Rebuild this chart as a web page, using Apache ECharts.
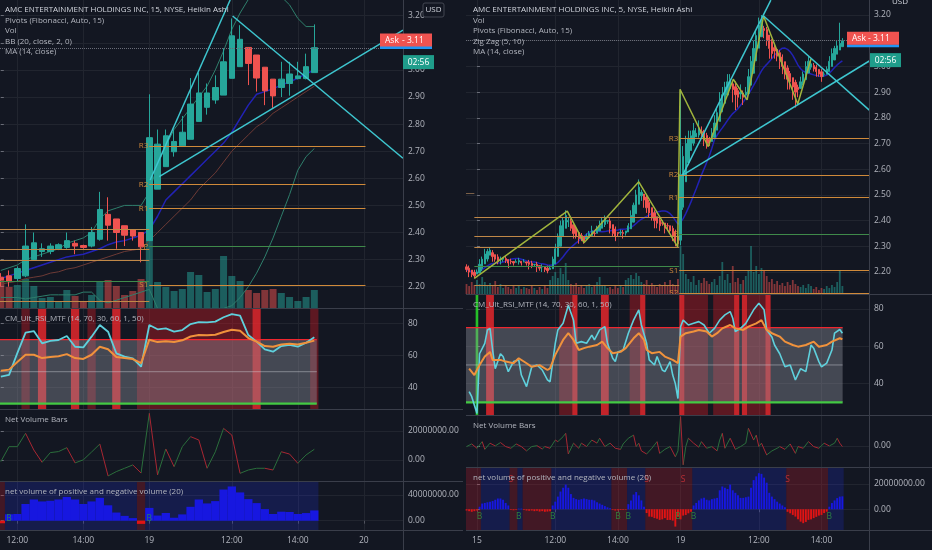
<!DOCTYPE html>
<html><head><meta charset="utf-8">
<script src="https://cdn.jsdelivr.net/npm/echarts@6/dist/echarts.min.js"></script>
<style>html,body{margin:0;padding:0;background:#131722;overflow:hidden}#c{width:932px;height:550px}</style>
</head><body><div id="c"></div>
<script>
// ================= LEFT PANEL : 15 min, Heikin Ashi (bar index 0 = 11:30 of day before the 19th) =================
const L_O = [2.235,2.24,2.23,2.24,2.30,2.33,2.33,2.34,2.345,2.36,2.352,2.35,2.375,2.467,2.45,2.425,2.41,2.40,2.37,2.56,2.643,2.698,2.72,2.744,2.81,2.862,2.889,2.907,2.969,3.012,3.083,3.055,3.01,2.966,2.935,2.95,2.968,2.968,2.99];
const L_C = [2.225,2.22,2.267,2.35,2.362,2.34,2.35,2.355,2.37,2.35,2.345,2.40,2.485,2.427,2.40,2.39,2.387,2.347,2.75,2.726,2.757,2.736,2.77,2.874,2.915,2.915,2.935,3.03,3.126,3.113,3.024,2.97,2.923,2.904,2.966,2.985,2.978,3.012,3.082];
const L_H = [2.25,2.26,2.275,2.43,2.40,2.36,2.36,2.36,2.40,2.37,2.355,2.42,2.55,2.53,2.45,2.425,2.41,2.40,2.91,2.78,2.78,2.78,2.83,2.97,2.99,2.95,2.98,3.08,3.19,3.165,3.083,3.055,3.01,2.966,3.03,3.03,3.03,3.06,3.168];
const L_L = [2.20,2.20,2.22,2.235,2.295,2.31,2.32,2.335,2.34,2.32,2.34,2.345,2.37,2.37,2.34,2.35,2.37,2.29,2.37,2.56,2.643,2.68,2.72,2.744,2.81,2.835,2.875,2.907,2.969,3.012,2.944,2.92,2.87,2.86,2.90,2.905,2.965,2.965,2.99];
const L_VOL = [28,21,23,29,22,10,11,7,18,12,7,13,27,28,22,13,17,29,68,26,21,17,19,36,33,16,19,52,32,27,18,15,18,19,15,11,7,11,18];
const L_BB_UP = [2.26,2.27,2.28,2.30,2.31,2.32,2.33,2.34,2.36,2.37,2.38,2.40,2.45,2.48,2.49,2.50,2.50,2.50,2.55,2.65,2.72,2.78,2.82,2.86,2.90,2.94,3.00,3.07,3.15,3.21,3.26,3.29,3.30,3.29,3.27,3.24,3.19,3.16,3.16];
const L_BB_MID = [2.21,2.215,2.22,2.23,2.235,2.24,2.25,2.255,2.265,2.27,2.28,2.29,2.30,2.31,2.32,2.33,2.335,2.34,2.37,2.40,2.43,2.46,2.49,2.52,2.56,2.59,2.62,2.66,2.70,2.73,2.76,2.79,2.81,2.84,2.86,2.88,2.90,2.92,2.94];
const L_BB_LO = [2.16,2.16,2.16,2.155,2.16,2.165,2.17,2.17,2.17,2.17,2.18,2.18,2.15,2.14,2.15,2.16,2.17,2.18,2.19,2.12,2.10,2.10,2.11,2.09,2.11,2.12,2.12,2.12,2.13,2.16,2.20,2.25,2.31,2.38,2.46,2.54,2.63,2.68,2.71];
const L_MA = [2.23,2.24,2.25,2.26,2.27,2.28,2.29,2.30,2.31,2.315,2.32,2.33,2.34,2.355,2.365,2.37,2.38,2.39,2.41,2.46,2.52,2.55,2.58,2.61,2.64,2.67,2.70,2.73,2.77,2.82,2.87,2.91,2.92,2.93,2.945,2.955,2.97,2.985,3.0];
const L_RSI = [46.9,48,61.6,74.4,75.4,67.7,69.2,69.8,72.3,65.6,65.2,71.9,79.2,75,61.5,59.4,58.4,53.1,79.2,76.5,77.1,75,76,79.8,81,80.8,81.3,84,86,85,72.9,68.8,64,62.5,66,66.7,65.6,68.1,71.5];
const L_RSI_MTF = [50.6,51.3,56,60.6,60.6,58.5,59.2,59.6,61,58.5,58,60.6,65.6,64,59.2,58.5,57.9,55.4,70,68.5,69,68.5,69.6,72,72.9,72.7,73.1,74.8,76.2,75.6,71,68.8,66,65.6,67,67.5,67,68.1,69.4];
const L_NVB = [-1.1,9.2,9.2,18.4,6.9,-1.6,5.1,5.8,8.5,-2.0,0.1,5.5,11,-11,-8,-5.7,-3.4,-9,32.2,-10.3,7.6,-4.6,9.2,16.1,13.8,-5.7,5.7,21.8,17.2,-9.2,-6.9,-5.7,-5.7,-6.9,5.7,4.1,-2.3,3.5,7.4];
const L_NV = [-4,10,10.4,26,33,30,31,33,37,33,26,30,35.6,24,12.7,7.5,4,-5,19.9,8,12,4.6,9.8,21.6,33,26.9,30.5,48.5,53.3,44,33.6,27.4,18,10.4,14,13.5,10.4,11.9,16];
const L_NV_BG = [[0,0,0],[1,16,1],[17,17,0],[18,38,1]];          // [fromBar, toBar, 1=buy(blue) 0=sell(red)]
const L_NV_B = [1,18];                                           // "B" markers
const L_RSI_SPANS = [[3,3,1],[5,5,2],[9,9,2],[11,11,1],[14,14,2],[17,30,1],[31,31,2],[38,38,1]]; // 1 dark, 2 bright
const L_TL = [[[19.2,2.606],[48.75,3.147]],[[28.1,3.199],[48.75,2.674]],[[18.1,2.594],[27.8,3.258]]];
const L_TICK_IDX = [2,10,18,28,36,44];
const L_TICK_LBL = ['12:00','14:00','19','12:00','14:00','20'];

// ================= RIGHT PANEL : 5 min, Heikin Ashi (bar index 0 = 9:30 of the "15" session, first bar = -4) =================
const R_FIRST_IDX = -4;
const R_OPEN0 = 2.22;
const R_C = [2.21,2.20,2.19,2.185,
 2.20,2.23,2.25,2.27,2.28,2.285,
 2.26,2.25,2.24,2.25,2.255,2.245,2.235,
 2.24,2.235,2.24,2.245,2.235,2.24,
 2.235,2.23,2.225,2.23,2.22,2.215,2.22,2.21,2.205,2.215,
 2.25,2.29,2.34,2.38,2.40,2.42,
 2.40,2.37,2.35,2.34,2.33,2.33,2.32,
 2.34,2.35,2.36,2.35,2.37,2.38,2.40,2.41,2.40,
 2.37,2.35,2.34,2.35,2.355,2.35,2.36,2.38,
 2.42,2.46,2.50,2.53,
 2.51,2.48,2.45,2.43,2.41,2.40,2.39,2.38,
 2.39,2.37,2.38,2.36,2.34,2.32,2.31,
 2.58,
 2.65,2.70,2.72,2.73,2.75,2.74,2.76,
 2.74,2.72,2.70,2.70,
 2.74,2.78,2.82,2.86,2.89,2.92,2.94,2.95,
 2.91,2.89,2.88,2.90,2.88,2.90,
 2.96,3.02,3.07,3.12,3.16,3.18,
 3.14,3.10,3.07,3.05,3.06,3.04,3.02,
 3.00,2.97,2.95,2.94,2.92,2.90,2.91,
 2.94,2.97,3.00,3.02,3.01,
 2.99,2.98,2.97,2.96,2.97,2.99,
 3.02,3.05,3.07,3.08,3.09,3.10];
const R_WU = [1,1,0,1, 1,2,1,2,1,1, 1,0,1,1,0,1,0, 1,0,1,1,0,1, 0,1,1,0,1,0,1,0,1,1, 1,2,1,2,1,2, 1,1,0,1,0,1,0, 1,1,2,1,1,2,1,1,0, 1,0,1,0,1,1,0,1, 2,1,2,3, 1,0,1,1,0,1,0,1, 1,0,1,0,1,1,0, 33, 4,3,3,2,3,2,3, 2,1,1,1, 2,3,2,4,3,2,3,2, 1,2,1,3,1,2, 3,2,3,2,3,2, 1,1,0,1,1,0,1, 1,0,1,1,0,1,1, 2,1,2,2,1, 1,1,0,1,1,1, 2,2,1,2,8,1];
const R_WD = [1,2,1,1, 0,0,1,0,1,0, 2,1,1,2,1,1,2, 1,1,0,1,1,0, 1,2,1,1,2,1,2,1,1,0, 0,0,0,0,0,0, 2,1,2,1,2,1,1, 0,0,0,1,0,0,0,1,1, 2,1,2,1,1,2,1,0, 0,0,0,0, 2,3,2,2,1,3,2,2, 1,2,2,1,2,2,1, 2, 1,0,1,0,1,0,1, 2,3,2,1, 0,0,0,0,0,0,0,0, 5,6,4,2,3,1, 0,0,0,0,0,0, 3,2,4,2,3,2,3, 3,2,4,3,5,6,3, 0,0,0,0,1, 1,2,1,2,1,0, 0,0,0,0,0,0];
const R_VOL = [10,8,12,9, 14,10,17,12,9,11, 8,13,7,10,6,9,7, 5,8,6,9,5,7, 6,5,8,6,4,7,5,9,6,14, 18,22,16,26,20,31, 14,10,8,11,7,9,6, 8,10,7,9,12,17,9,8,6, 7,5,8,6,9,7,14,16, 19,15,21,18, 12,10,14,8,11,9,7,10, 8,12,9,14,10,8,15, 48, 40,20,15,12,18,9,14, 11,16,13,10, 12,15,9,18,32,14,20,11, 28,12,16,10,14,18, 24,48,22,28,20,26, 24,18,12,15,10,13,9, 11,8,12,9,14,10,8, 7,9,6,10,8, 5,7,4,6,5,8, 6,9,7,12,23,8];
const R_NV = [-1,-1.5,-2,-1.5,-1,
 2,4.5,5,5.5,6,6.5,7.5,8.5,8.5,7.5,5,3,
 -0.5,-0.8,-0.5, 0.5,0.5,
 -0.5,-1,-1.2,-1,-1.5,-1.2,-1.8,-1.5,-2,-1.8,-1.5,
 3,6,10,14,17,19.5,17,12,9,8,7.5,8,8.5,8,7.5,7.5,7,5.5,4.5,3.5,2.5,1.5,0.8,
 -0.5,-1,-0.8,-0.6,-0.5,-0.4,
 4,7,11.6,13.6,11,7,2,
 -3,-5.8,-6,-7,-7.5,-8.4,-8,-7,-8.5,-8.4,-9,-13.7,-6,-8,-5,-4.5,-3.2,-2,
 3,5,7,8.5,9,7.5,7,8,8.5,9,15,18,17,16,19.5,15,13,11,9,9,9.5,10,17,23,26,28.5,28,25,21,13,10,8,6,4.5,3,1.5,
 -2,-3.2,-4.5,-5.8,-8,-9.8,-11,-10,-8.4,-8,-7,-6,-5,-4.5,-3,-1.9,
 2,4.9,7,8.8,10,10.2];
const R_NV_BG = [[-5,1,0],[2,12,1],[13,15,0],[16,17,1],[18,28,0],[29,51,1],[52,57,0],[58,64,1],[65,82,0],[83,118,1],[119,134,0],[135,140,1]];
const R_NV_B = [1,16,29,54,58,77,83,135];
const R_NV_S = [13,65,79,119];
const R_RSI = [[-3,35.7],[-2,33],[0,24],[1,56],[3,61.6],[4,68.7],[5,69.6],[6,58],[7,48],[9,56],[10,54.5],[12,46.4],[14,51.8],[16,52.7],[17,44.6],[19,38.4],[21,49],[23,50],[25,47.3],[27,42],[28,41],[30,61.6],[31,68.75],[33,72.3],[35,82],[37,74],[38,61.6],[40,62.5],[42,61.6],[44,66],[45,63.4],[47,68.75],[49,70.5],[50,61.6],[52,53.6],[53,51.8],[54,57],[56,58],[58,67],[60,74],[62,79.5],[63,71.4],[65,61.6],[66,52.7],[68,50],[69,54.5],[71,47.3],[72,46.4],[74,51.8],[75,44.6],[76,40],[77,32],[78,70.5],[79,74],[81,71.4],[83,72.3],[85,73.2],[87,71.4],[89,67],[91,69.6],[93,74],[95,76.8],[97,78.6],[98,75],[99,67.9],[101,69.6],[103,72.3],[106,79.5],[108,83],[110,79.5],[111,68.75],[113,65],[114,60.7],[116,56],[118,49],[120,50],[122,42],[124,48],[126,46.4],[128,60.7],[129,59],[131,51.8],[132,49],[134,51],[136,58],[137,67],[139,69],[140,67]];
const R_RSI_MTF = [[-3,48],[-1,44.6],[1,50],[3,54.5],[5,57],[6,52.7],[9,52.7],[11,51.8],[14,50.9],[16,53.6],[19,50.9],[21,49],[24,49.9],[27,47.3],[28,48.2],[30,55.4],[33,63.4],[35,67],[37,63.4],[39,58],[41,59],[43,59.8],[46,60.7],[48,62.5],[50,59],[52,56.3],[55,57],[57,59],[60,64.3],[62,67],[64,63.4],[65,58],[67,56.3],[70,57],[72,54.5],[75,52.7],[77,51],[78,65.2],[80,67],[83,67.9],[85,68.75],[88,67.9],[90,65.2],[92,67],[94,69.6],[97,71.4],[99,69.6],[102,68.75],[104,70.5],[107,72.3],[109,74],[111,68.75],[113,67],[116,65.2],[118,62.5],[121,60.7],[123,59.8],[126,60.7],[129,62.5],[131,59.8],[134,60.7],[136,62.5],[139,64.3],[140,63.8]];
const R_RSI_SPANS = [[0,0,3],[4,6,2],[32,36,1],[37,38,2],[48,50,2],[59,62,1],[63,64,2],[78,79,2],[80,88,1],[91,98,1],[99,100,2],[102,103,2],[104,110,1],[111,112,2]]; // 3 = oversold green
const R_NVB = [[-4,-0.2],[-2,0.65],[0,-0.75],[2,1.4],[3,-1.1],[5,0.9],[7,0],[9,1.1],[11,-0.2],[13,-0.75],[15,0.65],[17,-0.2],[19,-1.6],[21,-0.2],[23,0.1],[25,-1.0],[26,-0.2],[28,-0.75],[30,1.9],[31,1.4],[33,3.0],[34,4.1],[35,-2.6],[37,0.9],[39,-0.75],[40,0.9],[42,-0.2],[44,1.9],[46,0.9],[47,2.5],[49,-0.2],[51,0.9],[53,-0.75],[55,-1.1],[56,0.65],[58,2.5],[60,3.5],[61,-0.2],[62,0.9],[63,-1.6],[65,-2.6],[67,-0.75],[69,1.4],[70,-2.4],[72,-1.1],[74,-0.2],[76,-3.5],[77,-1.6],[78,9.5],[79,-6.1],[80,-0.2],[81,2.5],[83,0.9],[85,-0.4],[86,1.4],[88,-0.75],[90,-0.2],[92,-1.6],[93,1.9],[94,4.1],[95,-0.75],[97,2.5],[99,-1.1],[101,-0.2],[103,0.9],[104,5.7],[106,1.9],[107,3.5],[108,-0.2],[109,0.9],[111,-2.9],[113,-1.6],[115,-0.75],[116,-0.2],[118,-1.1],[120,0.65],[122,-2.4],[123,-0.2],[125,-0.75],[127,1.4],[129,-0.2],[131,-0.75],[133,0.9],[135,0],[137,0.9],[138,2.5],[139,0.9],[140,-0.2]];
const R_ZZ = [[-1,2.175],[34.6,2.437],[41,2.314],[62,2.551],[76.9,2.298],[77.8,2.911],[88.6,2.688],[98.2,2.95],[103.5,2.87],[109.8,3.196],[122.9,2.854],[128,3.03]];
const R_TL = [[[78.8,2.577],[150.3,3.021]],[[109.8,3.196],[150.3,2.83]],[[78.8,2.577],[112.6,3.258]]];
const R_TICK_IDX = [0,30,54,78,108,132];
const R_TICK_LBL = ['15','12:00','14:00','19','12:00','14:00'];

// Fibonacci pivots (shared sessions)
const PIV_D1 = [2.412,2.34,2.296,2.221,2.148];
const PIV_D1_NAMES = ['R3','R2','R1','P','S1'];
const PIV_D2 = [2.719,2.578,2.489,2.348,2.206,2.118];
const PIV_D2_NAMES = ['R3','R2','R1','P','S1','S2'];
const PIV_PREV = [2.506];

const PRICE_TICKS = [2.2,2.3,2.4,2.5,2.6,2.7,2.8,2.9,3.0,3.1,3.2];
const RSI_TICKS = [40,60,80];
const ASK = 3.11;

// ================= styling =================
const FONT = '"Open Sans", "Liberation Sans", sans-serif';
const BG = '#131722', GRID_C = '#21252f', SEP = '#3a3e4a', TXT = '#b2b5be';
const UP = '#26a69a', DN = '#ef5350';
const VUP = 'rgba(38,166,154,0.5)', VDN = 'rgba(239,83,80,0.5)';
const TLC = '#3ec6cf', ZZC = '#a0b43c', PIV_O = '#d08a3a', PIV_O1 = '#c08848', PIV_G = '#3f8a4a';
const MA_C = '#2222b4';

// Heikin Ashi open/high/low for the right panel from read closes and wick sizes
const R_O = []; R_C.forEach((c,k)=>{ R_O.push(k===0 ? R_OPEN0 : +((R_O[k-1]+R_C[k-1])/2).toFixed(4)); });
const R_H = R_C.map((c,k)=>+(Math.max(R_O[k],c)+R_WU[k]/100).toFixed(4));
const R_L = R_C.map((c,k)=>+(Math.min(R_O[k],c)-R_WD[k]/100).toFixed(4));
const R_X = R_C.map((c,k)=>k+R_FIRST_IDX);
const R_MA = R_C.map((c,k)=>{ const s=R_C.slice(Math.max(0,k-13),k+1); return s.reduce((a,b)=>a+b,0)/s.length; });

function slopeSegs(pts){
  const up=[], dn=[]; let lu=-1, ld=-1;
  for(let k=0;k<pts.length-1;k++){
    const a=pts[k], b=pts[k+1], rising=b[1]>=a[1];
    const arr=rising?up:dn, last=rising?lu:ld;
    if(last!==k){ if(arr.length) arr.push([a[0],'-']); arr.push(a); }
    arr.push(b);
    if(rising) lu=k+1; else ld=k+1;
  }
  return {up,dn};
}
function pivLines(levels,names,s,e,lbl,col){
  return levels.map((p,k)=>[{coord:[s,p],lineStyle:{color:names[k]==='P'?PIV_G:(col||PIV_O),width:1,type:'solid',opacity:1},
    label:{show:lbl,position:'start',formatter:names[k],color:PIV_O,fontSize:8,fontFamily:FONT,distance:1}},{coord:[e,p]}]);
}
function spansArea(spans, colors){
  return spans.map(s=>[{xAxis:s[0]-0.5,itemStyle:{color:colors[s[2]]}},{xAxis:s[1]+0.5}]);
}

const grids=[
 {left:0,top:0,width:403,height:308},
 {left:0,top:230,width:403,height:78},
 {left:0,top:308,width:403,height:101},
 {left:0,top:409,width:403,height:72},
 {left:0,top:481,width:403,height:49},
 {left:466,top:0,width:403,height:294},
 {left:466,top:240,width:403,height:54},
 {left:466,top:294,width:403,height:121},
 {left:466,top:415,width:403,height:52},
 {left:466,top:467,width:403,height:63}
].map(g=>Object.assign(g,{containLabel:false,outerBoundsMode:'none'}));

function xAx(g,side,bottom,split){
  const idx = side==='L'?L_TICK_IDX:R_TICK_IDX, lbl = side==='L'?L_TICK_LBL:R_TICK_LBL;
  return {type:'value',gridIndex:g,min:side==='L'?-0.1:-4.2,max:side==='L'?48.75:150.2,
    axisLine:{show:false},
    axisTick:{show:!!bottom,customValues:idx,length:3,lineStyle:{color:'#50535e'}},
    axisLabel:{show:!!bottom,customValues:idx,formatter:v=>{const k=idx.indexOf(v);return k<0?'':lbl[k];},color:TXT,fontSize:8.5,fontFamily:FONT,margin:6},
    splitLine:{show:split,lineStyle:{color:GRID_C,width:1}}};
}
function yAx(g,min,max,ticks,fmt,show){
  return {type:'value',gridIndex:g,position:'right',min,max,
    axisLine:{show:false},
    axisTick:{show:show,customValues:ticks||[],length:3,lineStyle:{color:'#6a6d78'}},
    axisLabel:{show:show,customValues:ticks||[],formatter:fmt,color:TXT,fontSize:8.5,fontFamily:FONT,margin:5},
    splitLine:{show:show,lineStyle:{color:GRID_C,width:1}}};
}
const pf=v=>v.toFixed(2), mf=v=>(v*1000000).toFixed(2), rf=v=>String(v);

const xAxis=[xAx(0,'L',false,true),xAx(1,'L',false,false),xAx(2,'L',false,true),xAx(3,'L',false,true),xAx(4,'L',true,true),
             xAx(5,'R',false,true),xAx(6,'R',false,false),xAx(7,'R',false,true),xAx(8,'R',false,true),xAx(9,'R',true,true)];
const yAxis=[yAx(0,2.1214,3.258,PRICE_TICKS,pf,true), yAx(1,0,78,null,pf,false), yAx(2,26.7,89.8,RSI_TICKS,rf,true),
             yAx(3,-14.48,35.17,[0,20],mf,true), yAx(4,-14.5,61.8,[0,40],mf,true),
             yAx(5,2.1144,3.2584,PRICE_TICKS,pf,true), yAx(6,0,54,null,pf,false), yAx(7,23.2,88,RSI_TICKS,rf,true),
             yAx(8,-6.8,10,[0],mf,true), yAx(9,-16.4,33.4,[0,20],mf,true)];

const series=[];
function ln(xi,data,color,width,z,extra){ series.push(Object.assign({type:'line',xAxisIndex:xi,yAxisIndex:xi,data,symbol:'none',silent:true,z,
  lineStyle:{color,width},itemStyle:{color},connectNulls:false},extra||{})); }
const mlBase={silent:true,symbol:['none','none'],animation:false,lineStyle:{color:PIV_O,width:1,type:'solid'},emphasis:{disabled:true}};

// ---------- LEFT main ----------
series.push({type:'bar',xAxisIndex:1,yAxisIndex:1,barWidth:7,z:1,silent:true,
  data:L_VOL.map((v,i)=>({value:[i,v],itemStyle:{color:L_C[i]>=L_O[i]?VUP:VDN}}))});
ln(0,L_BB_UP.map((v,i)=>[i,v]),'#2f7f6c',1,2);
ln(0,L_BB_LO.map((v,i)=>[i,v]),'#2f7f6c',1,2);
ln(0,L_BB_MID.map((v,i)=>[i,v]),'#6e3b36',1,2);
ln(0,L_MA.map((v,i)=>[i,v]),MA_C,1.5,3);
series.push({type:'candlestick',xAxisIndex:0,yAxisIndex:0,barWidth:6,z:4,silent:true,
  encode:{x:0,y:[1,2,3,4]},
  data:L_O.map((o,i)=>[i,o,L_C[i],L_L[i],L_H[i]]),
  itemStyle:{color:UP,color0:DN,borderColor:UP,borderColor0:DN,borderWidth:1},
  markLine:Object.assign({},mlBase,{
    data:[...pivLines(PIV_D1,PIV_D1_NAMES,-0.1,18,false,PIV_O1),...pivLines(PIV_D2.slice(0,5),PIV_D2_NAMES.slice(0,5),18,44.2,true),
      {yAxis:L_C[L_C.length-1],label:{show:false},lineStyle:{type:'dotted',color:'#6a6d78',width:1}}]})});
L_TL.forEach(t=>ln(0,t,TLC,1.5,5));

// ---------- LEFT RSI ----------
const L_END=38.3;
ln(2,[[-0.1,30],[L_END,30]],'rgba(0,0,0,0)',0,1,{markArea:{silent:true,data:spansArea(L_RSI_SPANS,[null,'rgba(215,25,35,0.38)','rgba(245,40,45,0.78)','rgba(40,220,40,0.8)'])}});
ln(2,[[-0.1,70],[L_END,70]],'rgba(0,0,0,0)',0,2,{markArea:{silent:true,itemStyle:{color:'rgba(150,152,162,0.38)'},data:[[{coord:[-0.1,30]},{coord:[L_END,70]}]]}});
ln(2,[[-0.1,50],[L_END,50]],'rgba(210,212,220,0.45)',1,3);
ln(2,[[-0.1,70],[L_END,70]],'#f0262e',1.3,3);
ln(2,[[-0.1,30],[L_END,30]],'#43c943',2.2,3);
ln(2,L_RSI.map((v,i)=>[i,v]),'#5fd0dc',1.8,4);
ln(2,L_RSI_MTF.map((v,i)=>[i,v]),'#f0923c',2,5);

// ---------- LEFT Net Volume Bars ----------
{const s=slopeSegs(L_NVB.map((v,i)=>[i,v])); ln(3,s.up,'#2b6e3c',1,3); ln(3,s.dn,'#a82632',1,3);}

// ---------- LEFT net volume ----------
ln(4,[[-0.1,0],[L_END,0]],'rgba(0,0,0,0)',0,1,{markArea:{silent:true,data:spansArea(L_NV_BG,['rgba(190,30,45,0.28)','rgba(35,45,230,0.21)'])}});
series.push({type:'bar',xAxisIndex:4,yAxisIndex:4,barWidth:8.3,z:2,silent:true,
  data:L_NV.map((v,i)=>({value:[i,v],itemStyle:{color:v>=0?'#1717e0':'#e01414'}}))});
series.push({type:'scatter',xAxisIndex:4,yAxisIndex:4,z:3,silent:true,symbolSize:1,itemStyle:{color:'rgba(0,0,0,0)'},
  data:L_NV_B.map(i=>[i,4]),label:{show:true,position:'inside',formatter:'B',color:'#2f9a3e',fontSize:8.5,fontFamily:FONT}});

// ---------- RIGHT main ----------
series.push({type:'bar',xAxisIndex:6,yAxisIndex:6,barWidth:1.8,z:1,silent:true,
  data:R_VOL.map((v,k)=>({value:[R_X[k],v],itemStyle:{color:R_C[k]>=R_O[k]?VUP:VDN}}))});
ln(5,R_MA.map((v,k)=>[R_X[k],v]),MA_C,1.5,3);
series.push({type:'candlestick',xAxisIndex:5,yAxisIndex:5,barWidth:1.8,z:4,silent:true,
  encode:{x:0,y:[1,2,3,4]},
  data:R_C.map((c,k)=>[R_X[k],R_O[k],c,R_L[k],R_H[k]]),
  itemStyle:{color:UP,color0:DN,borderColor:UP,borderColor0:DN,borderWidth:1},
  markLine:Object.assign({},mlBase,{
    data:[...pivLines(PIV_PREV,['R2'],-4.2,-1,false,'#7a6048'),...pivLines(PIV_D1,PIV_D1_NAMES,-1,77.5,false,PIV_O1),...pivLines(PIV_D2,PIV_D2_NAMES,77.5,150.2,true),
      {yAxis:R_C[R_C.length-1],label:{show:false},lineStyle:{type:'dotted',color:'#6a6d78',width:1}}]})});
ln(5,R_ZZ,ZZC,1.5,5);
R_TL.forEach(t=>ln(5,t,TLC,1.5,5));

// ---------- RIGHT RSI ----------
const R_END=140.1;
ln(7,[[-4.2,30],[R_END,30]],'rgba(0,0,0,0)',0,1,{markArea:{silent:true,data:spansArea(R_RSI_SPANS,[null,'rgba(215,25,35,0.38)','rgba(245,40,45,0.78)','rgba(40,220,40,0.85)'])}});
ln(7,[[-4.2,70],[R_END,70]],'rgba(0,0,0,0)',0,2,{markArea:{silent:true,itemStyle:{color:'rgba(150,152,162,0.38)'},data:[[{coord:[-4.2,30]},{coord:[R_END,70]}]]}});
ln(7,[[-4.2,50],[R_END,50]],'rgba(210,212,220,0.45)',1,3);
ln(7,[[-4.2,70],[R_END,70]],'#f0262e',1.3,3);
ln(7,[[-4.2,30],[R_END,30]],'#43c943',2.2,3);
ln(7,R_RSI,'#5fd0dc',1.6,4);
ln(7,R_RSI_MTF,'#f0923c',2,5);

// ---------- RIGHT Net Volume Bars ----------
{const s=slopeSegs(R_NVB); ln(8,s.up,'#2b6e3c',1,3); ln(8,s.dn,'#a82632',1,3);}

// ---------- RIGHT net volume ----------
ln(9,[[-4.2,0],[R_END,0]],'rgba(0,0,0,0)',0,1,{markArea:{silent:true,data:spansArea(R_NV_BG,['rgba(190,30,45,0.28)','rgba(35,45,230,0.21)'])}});
series.push({type:'bar',xAxisIndex:9,yAxisIndex:9,barWidth:1.9,z:2,silent:true,
  data:R_NV.map((v,k)=>({value:[R_X[k],v],itemStyle:{color:v>=0?'#1717e0':'#e01414'}}))});
series.push({type:'scatter',xAxisIndex:9,yAxisIndex:9,z:3,silent:true,symbolSize:1,itemStyle:{color:'rgba(0,0,0,0)'},
  data:R_NV_B.map(i=>[i,-5.8]),label:{show:true,position:'inside',formatter:'B',color:'#2f9a3e',fontSize:8.5,fontFamily:FONT}});
series.push({type:'scatter',xAxisIndex:9,yAxisIndex:9,z:3,silent:true,symbolSize:1,itemStyle:{color:'rgba(0,0,0,0)'},
  data:R_NV_S.map(i=>[i,23.2]),label:{show:true,position:'inside',formatter:'S',color:'#d8343a',fontSize:8.5,fontFamily:FONT}});

// ---------- texts & layout ----------
const g=[];
function txt(x,y,t,fill,size,align){ g.push({type:'text',x,y,silent:true,z:100,style:{text:t,fill:fill||TXT,font:(size||8)+'px '+FONT,verticalAlign:'middle',align:align||'left'}}); }
function hl(x1,x2,y){ g.push({type:'line',silent:true,z:90,shape:{x1,y1:y,x2,y2:y},style:{stroke:SEP,lineWidth:1}}); }
function vl(x,y1,y2){ g.push({type:'line',silent:true,z:90,shape:{x1:x,y1,x2:x,y2},style:{stroke:SEP,lineWidth:1}}); }
vl(403.5,0,550); vl(869.5,0,550);
[308.5,409.5,481.5,530.5].forEach(y=>hl(0,463,y));
[294.5,415.5,467.5,530.5].forEach(y=>hl(466,932,y));
const LEG_L=['AMC ENTERTAINMENT HOLDINGS INC, 15, NYSE, Heikin Ashi','Pivots (Fibonacci, Auto, 15)','Vol','BB (20, close, 2, 0)','MA (14, close)'];
const LEG_R=['AMC ENTERTAINMENT HOLDINGS INC, 5, NYSE, Heikin Ashi','Vol','Pivots (Fibonacci, Auto, 15)','Zig Zag (5, 10)','MA (14, close)'];
const LEG_Y=[10,20.5,31,41.5,52];
LEG_L.forEach((t,k)=>txt(5,LEG_Y[k],t,k===0?'#d1d4dc':TXT,8));
LEG_R.forEach((t,k)=>txt(473,LEG_Y[k],t,k===0?'#d1d4dc':TXT,8));
txt(5,319,'CM_Ult_RSI_MTF (14, 70, 30, 60, 1, 50)'); txt(5,419.5,'Net Volume Bars'); txt(5,491.5,'net volume of positive and negative volume (20)');
txt(473,305,'CM_Ult_RSI_MTF (14, 70, 30, 60, 1, 50)'); txt(473,426,'Net Volume Bars'); txt(473,478,'net volume of positive and negative volume (20)');
g.push({type:'rect',silent:true,z:95,shape:{x:423,y:3,width:21,height:14,r:2},style:{fill:BG,stroke:'#434651',lineWidth:1}});
txt(433.5,10,'USD','#d1d4dc',8,'center');
txt(900,2,'USD','#d1d4dc',8,'center');

const chart=echarts.init(document.getElementById('c'),null,{renderer:'canvas'});
chart.setOption({backgroundColor:BG,animation:false,grid:grids,xAxis,yAxis,series,graphic:g});

// price-scale labels (Ask + countdown) placed at the ask price
function askBox(gi,x1,x2,tx1,tx2,cdx1,cdx2){
  const y=chart.convertToPixel({xAxisIndex:gi,yAxisIndex:gi},[0,ASK])[1];
  const out=[];
  out.push({type:'rect',silent:true,z:110,shape:{x:x1,y:y+6,width:x2-x1,height:3},style:{fill:'#2196f3'}});
  out.push({type:'rect',silent:true,z:111,shape:{x:x1,y:y-6.5,width:x2-x1,height:13},style:{fill:'#f05350'}});
  out.push({type:'text',silent:true,z:112,x:tx1,y:y,style:{text:'Ask',fill:'#fff',font:'8.5px '+FONT,verticalAlign:'middle'}});
  out.push({type:'text',silent:true,z:112,x:tx2,y:y,style:{text:'- '+ASK.toFixed(2),fill:'#fff',font:'8.5px '+FONT,verticalAlign:'middle'}});
  out.push({type:'rect',silent:true,z:111,shape:{x:cdx1,y:y+15,width:cdx2-cdx1,height:14},style:{fill:'#1f9d8b'}});
  out.push({type:'text',silent:true,z:112,x:(cdx1+cdx2)/2,y:y+22,style:{text:'02:56',fill:'#fff',font:'8.5px '+FONT,verticalAlign:'middle',align:'center'}});
  return out;
}
chart.setOption({graphic:g.concat(askBox(0,380,432,385,402,403,434),askBox(5,847,899,852,868,870,901))});
</script></body></html>
